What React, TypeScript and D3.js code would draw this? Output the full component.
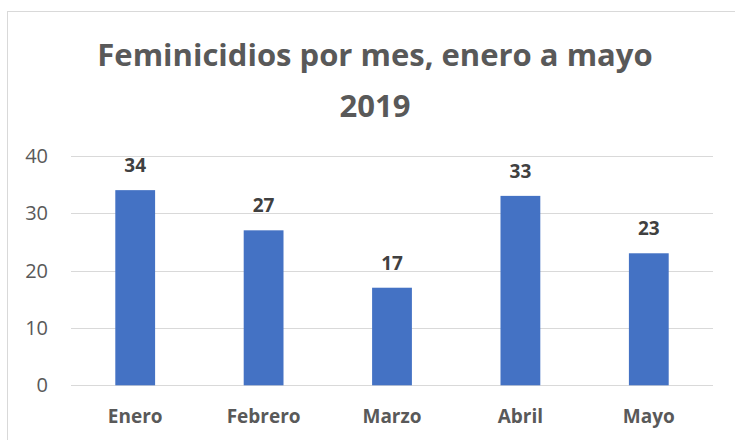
import React from "react";
import * as d3 from "d3";

const categories = ["Enero", "Febrero", "Marzo", "Abril", "Mayo"];
const values = [34, 27, 17, 33, 23];
const yTicks = [0, 10, 20, 30, 40];
const titleLines = ["Feminicidios por mes, enero a mayo", "2019"];

const W = 735;
const H = 440;
const FONT = "'Open Sans', 'Noto Sans', sans-serif";
const TXT = "#595959";

export default function App() {
  const x = d3.scaleBand<string>().domain(categories).range([71, 713]).paddingInner(0.69).paddingOuter(0.345);
  const y = d3.scaleLinear().domain([0, 40]).range([385.3, 155.7]);
  return (
    <svg width={W} height={H} style={{ position: "absolute", left: 0, top: 0, background: "#fff" }}>
      <rect x={7.5} y={11.5} width={W + 10} height={H + 10} fill="#fff" stroke="#d9d9d9" strokeWidth={1} />
      {titleLines.map((t, i) => (
        <text key={i} x={375} y={66 + i * 51} textAnchor="middle" fontFamily={FONT} fontWeight="bold" fontSize={31} fill={TXT}>
          {t}
        </text>
      ))}
      {yTicks.map((t) => (
        <g key={t}>
          <line x1={71} x2={713} y1={Math.round(y(t)) + 0.5} y2={Math.round(y(t)) + 0.5} stroke="#d9d9d9" strokeWidth={1} />
          <text x={48} y={y(t)} dy="0.35em" textAnchor="end" fontFamily={FONT} fontSize={20} fill={TXT}>
            {t}
          </text>
        </g>
      ))}
      {categories.map((c, i) => (
        <g key={c}>
          <rect x={x(c)} y={y(values[i])} width={x.bandwidth()} height={y(0) - y(values[i])} fill="#4472C4" />
          <text x={x(c)! + x.bandwidth() / 2} y={y(values[i]) - 18} textAnchor="middle" fontFamily={FONT} fontWeight="bold" fontSize={19} fill="#404040">
            {values[i]}
          </text>
          <text x={x(c)! + x.bandwidth() / 2} y={423} textAnchor="middle" fontFamily={FONT} fontWeight="bold" fontSize={19} fill={TXT}>
            {c}
          </text>
        </g>
      ))}
    </svg>
  );
}
